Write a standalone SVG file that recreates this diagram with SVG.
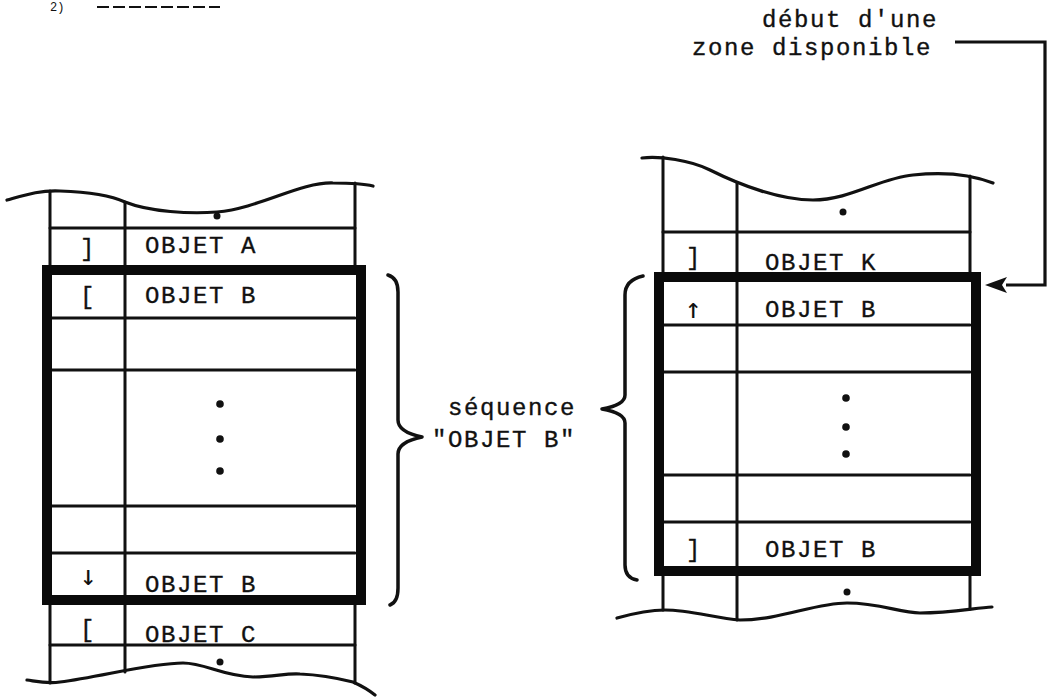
<svg xmlns="http://www.w3.org/2000/svg" width="1050" height="697" viewBox="0 0 1050 697">
<style>
.thin{fill:none;stroke:#111;stroke-width:3;stroke-linecap:round}
.wave{fill:none;stroke:#111;stroke-width:3.2;stroke-linecap:round}
.thick{fill:none;stroke:#0a0a0a;stroke-width:10;stroke-linejoin:miter}
.dot{fill:#111}
.t{font-family:"Liberation Mono","DejaVu Sans Mono",monospace;font-size:24px;letter-spacing:1.6px;fill:#111;stroke:#111;stroke-width:0.35}
.sym{font-family:"DejaVu Sans Mono","Liberation Mono",monospace;font-size:28px;fill:#111}
.brace{fill:none;stroke:#111;stroke-width:3.5;stroke-linecap:round;stroke-linejoin:round}
</style>
<defs>
<marker id="ah" viewBox="0 0 22 16" refX="1" refY="8" markerWidth="22" markerHeight="16" markerUnits="userSpaceOnUse" orient="auto">
<path d="M22,8 L0,0 L5,8 L0,16 Z" fill="#111"/>
</marker>
</defs>
<rect width="1050" height="697" fill="#fff"/>

<g id="heading-fragment">
<text x="50" y="11" font-family="Liberation Mono, monospace" font-size="12" fill="#111">2)</text>
<line x1="97" y1="7" x2="220" y2="7" stroke="#111" stroke-width="2.2" stroke-dasharray="12 4"/>
</g>

<g id="memoire-gauche">
<path class="wave" d="M7,200 C25,195 40,190 60,191 C90,192 110,195 125,202 C150,212 190,214 217,212 C260,208 300,182 333,183 C350,183 365,184 373,186"/>
<path class="wave" d="M27,680 C40,682 48,684 60,682 C100,677 150,663 183,663 C205,663 222,676 253,677 C275,677 285,673 300,674 C325,675 345,680 353,682 C362,686 370,691 375,695"/>
<line class="thin" x1="50" y1="191" x2="50" y2="270"/>
<line class="thin" x1="50" y1="600" x2="50" y2="683"/>
<line class="thin" x1="355" y1="183" x2="355" y2="270"/>
<line class="thin" x1="355" y1="600" x2="355" y2="683"/>
<line class="thin" x1="125" y1="202" x2="125" y2="672"/>
<line class="thin" x1="50" y1="228" x2="355" y2="228"/>
<line class="thin" x1="50" y1="318" x2="355" y2="318"/>
<line class="thin" x1="50" y1="370" x2="355" y2="370"/>
<line class="thin" x1="50" y1="506" x2="355" y2="506"/>
<line class="thin" x1="50" y1="553" x2="355" y2="553"/>
<line class="thin" x1="50" y1="645" x2="355" y2="645"/>
<rect class="thick" x="47" y="270" width="314" height="330"/>
<circle class="dot" cx="217" cy="216" r="3.5"/>
<circle class="dot" cx="220" cy="404" r="3.8"/>
<circle class="dot" cx="220" cy="439" r="3.8"/>
<circle class="dot" cx="220" cy="471" r="3.8"/>
<circle class="dot" cx="220" cy="662" r="3.5"/>
<text class="t" x="80" y="256">]</text>
<text class="t" x="145" y="253">OBJET A</text>
<text class="t" x="80" y="304">[</text>
<text class="t" x="145" y="303">OBJET B</text>
<text class="sym" x="80" y="585">↓</text>
<text class="t" x="145" y="592">OBJET B</text>
<text class="t" x="80" y="637">[</text>
<text class="t" x="145" y="642">OBJET C</text>
</g>

<g id="memoire-droite">
<path class="wave" d="M642,158 C660,156 690,160 710,170 C740,185 780,200 813,200 C850,200 880,178 913,175 C940,172 970,174 993,183"/>
<path class="wave" d="M617,618 C635,613 650,610 665,610 C690,610 715,618 740,620 C780,620 815,603 847,603 C880,603 900,613 920,613 C950,613 975,608 992,607"/>
<line class="thin" x1="663" y1="157" x2="663" y2="277"/>
<line class="thin" x1="663" y1="571" x2="663" y2="610"/>
<line class="thin" x1="970" y1="176" x2="970" y2="277"/>
<line class="thin" x1="970" y1="571" x2="970" y2="609"/>
<line class="thin" x1="737" y1="183" x2="737" y2="620"/>
<line class="thin" x1="663" y1="232" x2="970" y2="232"/>
<line class="thin" x1="663" y1="325" x2="970" y2="325"/>
<line class="thin" x1="663" y1="372" x2="970" y2="372"/>
<line class="thin" x1="663" y1="475" x2="970" y2="475"/>
<line class="thin" x1="663" y1="522" x2="970" y2="522"/>
<rect class="thick" x="659" y="277" width="317" height="294"/>
<circle class="dot" cx="843" cy="212" r="3.5"/>
<circle class="dot" cx="846" cy="398" r="3.8"/>
<circle class="dot" cx="846" cy="427" r="3.8"/>
<circle class="dot" cx="846" cy="454" r="3.8"/>
<circle class="dot" cx="847" cy="592" r="3.5"/>
<text class="t" x="686" y="265">]</text>
<text class="t" x="765" y="270">OBJET K</text>
<text class="sym" x="685" y="318">↑</text>
<text class="t" x="765" y="317">OBJET B</text>
<text class="t" x="686" y="557">]</text>
<text class="t" x="765" y="557">OBJET B</text>
</g>

<g id="label-sequence">
<text class="t" x="448" y="415">séquence</text>
<text class="t" x="432" y="447">"OBJET B"</text>
</g>

<g id="label-zone">
<text class="t" x="762" y="27">début d'une</text>
<text class="t" x="692" y="55">zone disponible</text>
</g>

<g id="connectors">
<path class="brace" d="M388,275 Q398,278 398,292 L398,420 Q398,432 422,437 Q398,442 398,454 L398,588 Q398,602 390,605"/>
<path class="brace" d="M643,276 Q625,280 625,295 L625,395 Q625,405 602,409 Q625,413 625,423 L625,565 Q625,578 637,580"/>
<path d="M955,42 L1045,42 L1045,285 L1006,285" fill="none" stroke="#111" stroke-width="3.2" marker-end="url(#ah)"/>
</g>
</svg>
